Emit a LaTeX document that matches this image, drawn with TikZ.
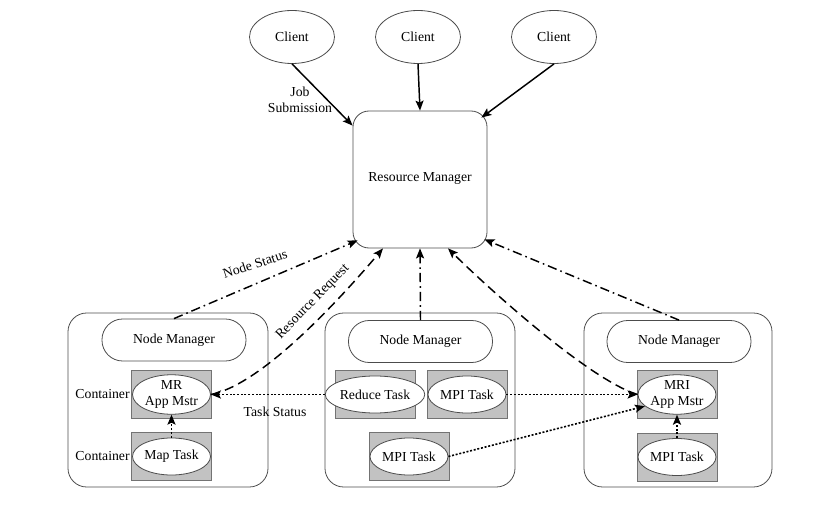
\documentclass[tikz,border=0pt]{standalone}
\usepackage{fontspec}
\setmainfont{Liberation Serif}
\usetikzlibrary{shapes.geometric,arrows.meta}
\begin{document}
\begin{tikzpicture}[x=0.75pt,y=-0.75pt,
  font=\fontsize{10.3}{12}\selectfont,
  box/.style={draw=black!70, line width=0.6pt},
  client/.style={box, ellipse, minimum width=63.75pt, minimum height=39.75pt, inner sep=0pt},
  rmbox/.style={box, rounded corners=12pt, minimum width=100.5pt, minimum height=102.75pt},
  host/.style={box, rounded corners=14pt, minimum height=130.5pt},
  nm/.style={box, rounded corners=15.5pt, minimum width=108pt, minimum height=31.5pt},
  cont/.style={draw=black!55, fill=black!24, minimum width=60pt, minimum height=36pt, inner sep=0pt},
  task/.style={box, fill=white, ellipse, minimum width=58.5pt, minimum height=27.75pt, inner sep=0pt, align=center},
  arr/.style={-{Stealth[length=7.5pt,width=6pt,inset=1.5pt]}, line width=1.1pt},
  dashdot/.style={arr, dash pattern=on 7pt off 3pt on 1.2pt off 3pt},
  dashedarr/.style={arr, dash pattern=on 7pt off 4pt},
  dottedarr/.style={arr, line width=1.2pt, dash pattern=on 1.5pt off 1.3pt},
  lbl/.style={inner sep=1pt, align=center},
]
\useasboundingbox (0,0) rectangle (836,506);

% clients and resource manager
\node[client] (c1) at (292,37) {Client};
\node[client] (c2) at (418,37) {Client};
\node[client] (c3) at (554,37) {Client};
\node[rmbox] (rm) at (420,179.5) {\raisebox{3pt}{Resource Manager}};

% hosts
\node[host, minimum width=150pt] (hL) at (168,400) {};
\node[host, minimum width=142.5pt] (hM) at (420,400) {};
\node[host, minimum width=141pt] (hR) at (678,400) {};

% node managers
\node[nm] (nmL) at (174,340) {Node Manager};
\node[nm] (nmM) at (420.5,341.5) {Node Manager};
\node[nm] (nmR) at (679,341.5) {Node Manager};

% containers
\node[cont] (bMR) at (171.5,394.5) {};
\node[task] (mr) at (bMR) {MR\\App Mstr};
\node[cont] (bMap) at (171.5,456.5) {};
\node[task] (map) at (bMap) {Map Task};
\node[lbl, anchor=east] (lc1) at (bMR.west) {Container};
\node[lbl, anchor=east] (lc2) at (bMap.west) {Container};

\node[cont] (bRed) at (375,394.5) {};
\node[task] (reduce) at (bRed) {Reduce Task};
\node[cont] (bMpi1) at (467,394.5) {};
\node[task] (mpi1) at (bMpi1) {MPI Task};
\node[cont] (bMpi2) at (409,456.5) {};
\node[task] (mpi2) at (bMpi2) {MPI Task};

\node[cont] (bMri) at (677,394.5) {};
\node[task] (mri) at (bMri) {MRI\\App Mstr};
\node[cont] (bMpi3) at (677,457) {};
\node[task] (mpi3) at (bMpi3) {MPI Task};

% client arrows
\draw[arr] (c1.south) -- ([shift={(0,15)}]rm.north west);
\draw[arr] (c2.south) -- (rm.north);
\draw[arr] (c3.south) -- ([shift={(-6,7)}]rm.north east);
\node[lbl] (job) at (300,100) {Job\\Submission};

% node status
\draw[dashdot] (nmL.north) -- ([shift={(5,-8)}]rm.south west);
\draw[dashdot] (nmM.north) -- (rm.south);
\draw[dashdot] (nmR.north) -- ([shift={(-3,-9)}]rm.south east);
\node[lbl, rotate=18] (ns) at (255,264) {Node Status};

% resource requests
\draw[dashedarr] (mr.east) .. controls (260,385) and (335,305) .. ([shift={(-37,0)}]rm.south);
\draw[dashedarr] (mri.west) .. controls (590,380) and (490,290) .. ([shift={(28,0)}]rm.south);
\node[lbl, rotate=46] (rr) at (313,302) {Resource Request};

% task status
\draw[dottedarr] (reduce.west) -- (mr.east);
\draw[dottedarr] (mpi1.east) -- (mri.west);
\draw[dottedarr] (mpi2.east) -- (mri.200);
\draw[dottedarr] (map.north) -- (mr.south);
\draw[dottedarr, line width=1.7pt] (mpi3.north) -- (mri.south);
\node[lbl] (ts) at (275,412) {Task Status};
\end{tikzpicture}
\end{document}
